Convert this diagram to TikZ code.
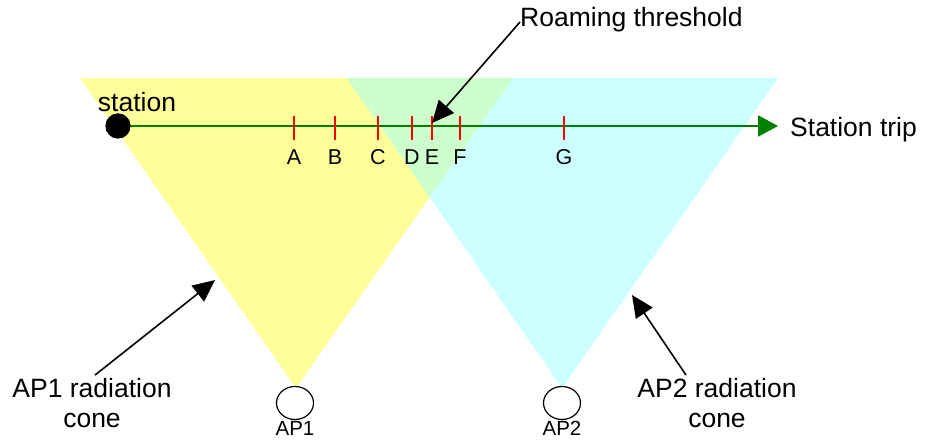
\documentclass[tikz,border=0pt]{standalone}
\usepackage{fontspec}
\setmainfont{Liberation Sans}
\usetikzlibrary{
  arrows.meta, positioning,
  shapes.geometric
}
\definecolor{coneyellow}{HTML}{FFFF99}
\definecolor{conecyan}{HTML}{CCFFFF}
\definecolor{conegreen}{HTML}{CCFFCC}
\definecolor{tripgreen}{HTML}{008000}

\begin{document}
\begin{tikzpicture}[x=1pt,y=1pt,
    bigtext/.style={font=\fontsize{26.5}{30}\selectfont, inner sep=0pt, align=center},
    ticktext/.style={font=\fontsize{21.5}{24}\selectfont, inner sep=0pt},
    aptext/.style={font=\fontsize{20.5}{23}\selectfont, inner sep=0pt},
    pointer/.style={line width=1.6pt, -{Triangle[length=22pt,width=20pt]}},
    tripline/.style={tripgreen, line width=2pt, -{Triangle[length=20pt,width=21pt]}},
    marker/.style={red, line width=1.6pt},
    apnode/.style={draw, ellipse, line width=1.2pt, minimum width=37pt, minimum height=33pt, inner sep=0pt}
  ]
      \useasboundingbox (0,0) rectangle (925,439);
      % radiation cones
      \fill[coneyellow] (80,361) -- (513,361) -- (296,51) -- cycle;
      \fill[conecyan] (347,361) -- (778,361) -- (562,51) -- cycle;
      \begin{scope}
        \clip (80,361) -- (513,361) -- (296,51) -- cycle;
        \fill[conegreen] (347,361) -- (778,361) -- (562,51) -- cycle;
      \end{scope}
      % station trip
      \coordinate (tripend) at (778,313);
      \node[circle, fill=black, minimum size=25pt, inner sep=0pt] (sta) at (118,313) {};
      \draw[tripline] (sta.center) -- (tripend);
      \fill[black] (sta) circle (12.5pt);
      \node[bigtext] (statxt) at (137,337) {station};
      \node[bigtext, anchor=west] (trip) at (790,309) {Station trip};
      \foreach \lab/\x in {A/294, B/335, C/378, D/412, E/432, F/460, G/564} % tick marks
      {
        \draw[marker] (\x,299) -- (\x,323);
        \node[ticktext] (t\lab) at (\x,281.5) {\lab};
      }
      % access points
      \node[apnode] (ap1) at (295,36) {};
      \node[apnode] (ap2) at (562,36) {};
      \node[aptext, anchor=north] (ap1txt) at (295,18) {AP1};
      \node[aptext, anchor=north] (ap2txt) at (562,18) {AP2};
      % labels with pointers
      \node[bigtext, anchor=west] (roam) at (520,419) {Roaming threshold};
      \coordinate (roamtip) at (432,316);
      \draw[pointer] ([yshift=-2pt]roam.west) -- (roamtip);
      \node[bigtext] (cone1) at (92,36) {AP1 radiation\\cone};
      \coordinate (cone1tip) at (215,159);
      \draw[pointer] ([xshift=3pt,yshift=3pt]cone1.north) -- (cone1tip);
      \node[bigtext] (cone2) at (717,36) {AP2 radiation\\cone};
      \coordinate (cone2tip) at (632,144);
      \draw[pointer] ([xshift=-31pt,yshift=3pt]cone2.north) -- (cone2tip);
\end{tikzpicture}
\end{document}
